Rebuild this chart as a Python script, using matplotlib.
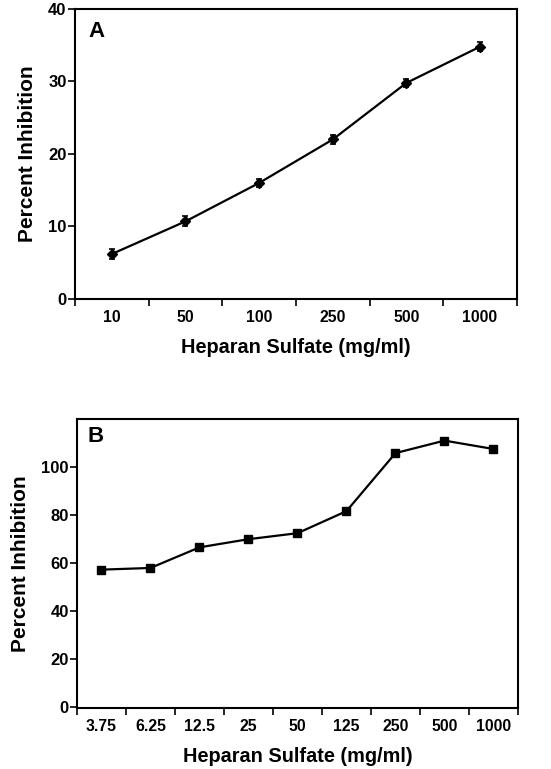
import matplotlib
matplotlib.use("Agg")
import matplotlib.pyplot as plt
import numpy as np

plt.rcParams["font.family"] = ["Liberation Sans", "DejaVu Sans"]
plt.rcParams["font.weight"] = "bold"

# panel A
conc_a = ["10", "50", "100", "250", "500", "1000"]
inhib_a = [6.2, 10.7, 16.0, 22.0, 29.8, 34.8]
err_a = [0.7, 0.7, 0.6, 0.6, 0.6, 0.6]

# panel B
conc_b = ["3.75", "6.25", "12.5", "25", "50", "125", "250", "500", "1000"]
inhib_b = [57.2, 57.9, 66.5, 69.9, 72.4, 81.6, 105.8, 111.0, 107.5]
err_b = [1.2, 1.2, 1.3, 1.2, 1.4, 1.3, 1.2, 1.2, 1.2]

INK = "black"


def panel(ax, labels, values, errors, ylim, yticks, marker, msize, letter, lpos):
    x = np.arange(len(labels))
    ax.errorbar(x, values, yerr=errors, color=INK, linewidth=1.6, marker=marker,
                markersize=msize, capsize=2.5, elinewidth=1.2, capthick=1.2)
    ax.set_xlim(-0.5, len(labels) - 0.5)
    ax.set_ylim(*ylim)
    ax.set_xticks(x)
    ax.set_xticklabels(labels, fontsize=11.3, fontweight="bold")
    ax.set_xticks(np.arange(len(labels) + 1) - 0.5, minor=True)
    ax.tick_params(axis="x", which="major", length=0, pad=8)
    ax.tick_params(axis="x", which="minor", length=5, width=1.2, direction="out")
    ax.set_yticks(yticks)
    ax.set_yticklabels([str(t) for t in yticks], fontsize=12, fontweight="bold")
    ax.tick_params(axis="y", length=5, width=1.2, direction="out", pad=1)
    for s in ax.spines.values():
        s.set_linewidth(1.5)
    ax.set_xlabel("Heparan Sulfate (mg/ml)", fontsize=14.3, fontweight="bold", labelpad=9)
    ax.set_ylabel("Percent Inhibition", fontsize=15, fontweight="bold", labelpad=8)
    ax.text(lpos[0], lpos[1], letter, transform=ax.transAxes, fontsize=16,
            fontweight="bold", ha="left", va="top")


fig = plt.figure(figsize=(5.51, 7.69), dpi=100)
ax_a = fig.add_axes([0.136, 0.6112, 0.802, 0.3771])
ax_b = fig.add_axes([0.1397, 0.0793, 0.8004, 0.3758])

panel(ax_a, conc_a, inhib_a, err_a, (0, 40), [0, 10, 20, 30, 40], "D", 5, "A", (0.03, 0.96))
panel(ax_b, conc_b, inhib_b, err_b, (-0.5, 120), [0, 20, 40, 60, 80, 100], "s", 5.5, "B", (0.023, 0.975))

fig.savefig("out.png", dpi=100, facecolor="white")
